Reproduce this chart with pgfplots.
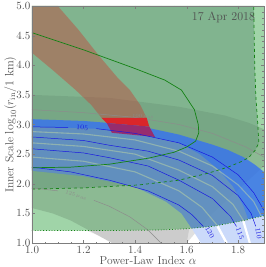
\documentclass[border=0pt]{standalone}
\usepackage{pgfplots}
\pgfplotsset{compat=1.18}
\definecolor{gA}{RGB}{160,212,168}
\definecolor{gD}{RGB}{100,150,120}
\definecolor{bB}{RGB}{55,115,240}
\definecolor{bL}{RGB}{203,218,250}
\definecolor{mute}{RGB}{140,170,150}
\definecolor{rP}{RGB}{200,60,50}
\definecolor{rB}{RGB}{218,38,42}
\definecolor{pu}{RGB}{150,45,110}
\definecolor{gLine}{RGB}{20,130,20}
\definecolor{cB}{RGB}{25,25,225}
\definecolor{axg}{RGB}{125,125,125}
\definecolor{txt}{RGB}{80,80,80}
\definecolor{strp}{RGB}{200,222,160}
\definecolor{glin}{RGB}{140,140,140}
\begin{document}
\begin{tikzpicture}
\begin{axis}[
 scale only axis, width=232pt, height=237pt,
 xmin=1, xmax=1.9, ymin=1, ymax=5,
 xtick={1,1.2,1.4,1.6,1.8}, ytick={1,1.5,2,2.5,3,3.5,4,4.5,5},
 minor x tick num=3, minor y tick num=4,
 tick align=inside, xtick pos=both, ytick pos=both,
 major tick length=3pt, minor tick length=1.5pt,
 axis line style={axg}, tick style={axg},
 tick label style={txt, font=\fontsize{11}{12}\selectfont},
 yticklabel style={inner sep=1.5pt},
 xticklabel style={/pgf/number format/.cd, fixed, fixed zerofill, precision=1},
 yticklabel style={/pgf/number format/.cd, fixed, fixed zerofill, precision=1},
 xlabel={Power-Law Index $\alpha$},
 ylabel={Inner Scale $\log_{10}(r_{\mathrm{in}}/1\ \mathrm{km})$},
 label style={txt, font=\fontsize{11.5}{12.5}\selectfont},
 xlabel style={yshift=4pt}, ylabel style={yshift=-5pt},
 axis on top,
]
% light green region above dotted curve
\addplot[fill=gA, draw=none] coordinates {(1.0,1.21) (1.3,1.21) (1.5,1.22) (1.6,1.24) (1.7,1.28) (1.8,1.36) (1.9,1.46) (1.9,5) (1.0,5)};
% gray band
\addplot[fill=black, fill opacity=0.12, draw=none] coordinates {(1.0,3.5) (1.3,3.45) (1.57,3.3) (1.75,3.15) (1.84,3.03) (1.9,2.92) (1.9,2.3) (1.8,1.9) (1.7,1.5) (1.63,1.15) (1.6,1.0) (1.31,1.0) (1.26,1.12) (1.21,1.24) (1.15,1.38) (1.08,1.5) (1.0,1.59)};
\addplot[fill=black, fill opacity=0.09, draw=none] coordinates {(1.21,1.215) (1.26,1.12) (1.31,1.0) (1.6,1.0) (1.61,1.24) (1.5,1.22) (1.3,1.21)};
% region above dashed curve
\addplot[fill=gD, fill opacity=0.5, draw=none] coordinates {(1.0,1.91) (1.2,1.93) (1.415,1.98) (1.57,2.06) (1.685,2.18) (1.76,2.28) (1.81,2.37) (1.84,2.44) (1.865,2.56) (1.88,2.69) (1.876,3.0) (1.868,3.5) (1.864,4.0) (1.862,4.5) (1.86,5.0) (1.0,5.0)};
% pale red band
\addplot[fill=rP, fill opacity=0.42, draw=none] coordinates {(1.0,5.0) (1.10,5.0) (1.18,4.6) (1.26,4.16) (1.33,3.8) (1.38,3.58) (1.42,3.33) (1.445,3.11) (1.27,3.11) (1.23,3.33) (1.17,3.58) (1.08,3.92) (1.0,4.21)};
% 100 muas gray line
\addplot[glin, line width=0.5pt] coordinates {(1.0,3.25) (1.2,3.2) (1.4,3.12) (1.57,3.0) (1.7,2.85) (1.83,2.62) (1.9,2.45)};
\node[text=glin, font=\tiny, rotate=-4] at (axis cs:1.43,3.13) {100\,$\mu$as};
% blue band above dotted
\addplot[fill=bB, fill opacity=0.82, draw=none] coordinates {(1.0,3.09) (1.2,3.06) (1.4,2.99) (1.57,2.83) (1.7,2.66) (1.76,2.57) (1.82,2.45) (1.865,2.32) (1.9,2.2) (1.9,1.46) (1.8,1.36) (1.7,1.28) (1.62,1.245) (1.58,1.5) (1.52,1.7) (1.4,1.95) (1.2,2.13) (1.0,2.22)};
% blue band below dotted
\addplot[fill=bL, draw=none] coordinates {(1.62,1.245) (1.7,1.28) (1.8,1.36) (1.9,1.46) (1.9,1.0) (1.655,1.0)};
% muted overlay
\addplot[fill=mute, fill opacity=0.42, draw=none] coordinates {(1.0,2.96) (1.24,2.93) (1.4,2.85) (1.57,2.69) (1.65,2.5) (1.72,2.25) (1.78,1.95) (1.82,1.62) (1.84,1.38) (1.8,1.36) (1.7,1.28) (1.62,1.245) (1.58,1.5) (1.52,1.7) (1.4,1.95) (1.2,2.13) (1.0,2.22)};
% light stripes
\addplot[strp, line width=1.1pt, opacity=0.45] coordinates {(1.0,2.88) (1.2,2.84) (1.4,2.74) (1.57,2.55) (1.7,2.3) (1.8,1.98) (1.86,1.7) (1.89,1.45)};
\addplot[strp, line width=1.1pt, opacity=0.45] coordinates {(1.0,2.69) (1.2,2.63) (1.4,2.5) (1.57,2.23) (1.7,1.95) (1.78,1.65) (1.82,1.38)};
\addplot[strp, line width=1.1pt, opacity=0.45] coordinates {(1.0,2.45) (1.2,2.38) (1.4,2.2) (1.57,1.88) (1.66,1.6) (1.72,1.29)};
\addplot[white, line width=2.2pt] coordinates {(1.82,1.37) (1.845,1.0)};
\addplot[white, line width=2.4pt] coordinates {(1.72,1.28) (1.755,1.0)};
% bright red trapezoid
\addplot[fill=rB, draw=none] coordinates {(1.27,3.11) (1.445,3.11) (1.455,2.965) (1.29,3.025)};
\addplot[fill=pu, draw=none] coordinates {(1.29,3.025) (1.455,2.965) (1.477,2.79) (1.31,2.86)};
% 125 muas line
\addplot[glin, line width=0.5pt] coordinates {(1.0,1.93) (1.1,1.88)};
\addplot[glin, line width=0.5pt] coordinates {(1.24,1.72) (1.3,1.62) (1.38,1.44) (1.45,1.22) (1.5,1.0)};
\node[text=glin, font=\tiny, rotate=-17] at (axis cs:1.17,1.8) {125\,$\mu$as};
% blue contour lines
\addplot[cB, line width=0.5pt] coordinates {(1.0,2.96) (1.14,2.95)};
\addplot[cB, line width=0.5pt] coordinates {(1.25,2.93) (1.4,2.85) (1.57,2.69) (1.7,2.45) (1.8,2.15) (1.86,1.85) (1.9,1.55)};
\addplot[cB, line width=0.5pt] coordinates {(1.0,2.79) (1.2,2.73) (1.3,2.65) (1.45,2.55) (1.57,2.40) (1.7,2.14) (1.8,1.8) (1.85,1.5) (1.868,1.28)};
\addplot[cB, line width=0.5pt] coordinates {(1.0,2.59) (1.2,2.52) (1.3,2.44) (1.45,2.3) (1.57,2.06) (1.7,1.75) (1.77,1.45) (1.793,1.28)};
\addplot[cB, line width=0.5pt] coordinates {(1.0,2.28) (1.15,2.2) (1.3,2.06) (1.45,1.88) (1.57,1.64) (1.62,1.48) (1.665,1.28)};
\node[text=cB, font=\scriptsize, rotate=-3, inner sep=0pt] at (axis cs:1.195,2.945) {105};
\node[text=cB, font=\scriptsize, rotate=-80, inner sep=0pt] at (axis cs:1.879,1.16) {110};
\node[text=cB, font=\scriptsize, rotate=-70, inner sep=0pt] at (axis cs:1.807,1.16) {115};
\node[text=cB, font=\scriptsize, rotate=-60, inner sep=0pt] at (axis cs:1.69,1.18) {120};
% green curves
\addplot[gLine, line width=0.7pt] coordinates {(1.0,2.27) (1.15,2.28) (1.3,2.33) (1.45,2.43) (1.55,2.53) (1.6,2.62) (1.635,2.72) (1.647,2.86) (1.645,3.0) (1.63,3.25) (1.58,3.58) (1.515,3.75) (1.39,3.96) (1.2,4.26) (1.0,4.55)};
\addplot[gLine, line width=0.7pt, dashed] coordinates {(1.0,1.91) (1.2,1.93) (1.415,1.98) (1.57,2.06) (1.685,2.18) (1.76,2.28) (1.81,2.37) (1.84,2.44) (1.865,2.56) (1.88,2.69) (1.876,3.0) (1.868,3.5) (1.864,4.0) (1.862,4.5) (1.86,5.0)};
\addplot[gLine, line width=0.8pt, dotted] coordinates {(1.0,1.21) (1.3,1.21) (1.5,1.22) (1.6,1.24) (1.7,1.28) (1.8,1.36) (1.9,1.46)};
\node[anchor=north east, text=txt, inner sep=0pt, font=\fontsize{12}{13}\selectfont] at (rel axis cs:0.962,0.975) {17 Apr 2018};
\end{axis}
\pgfresetboundingbox
\path[use as bounding box] ([xshift=-32pt,yshift=-24pt]current axis.south west) rectangle ([xshift=2pt,yshift=6pt]current axis.north east);
\end{tikzpicture}
\end{document}
